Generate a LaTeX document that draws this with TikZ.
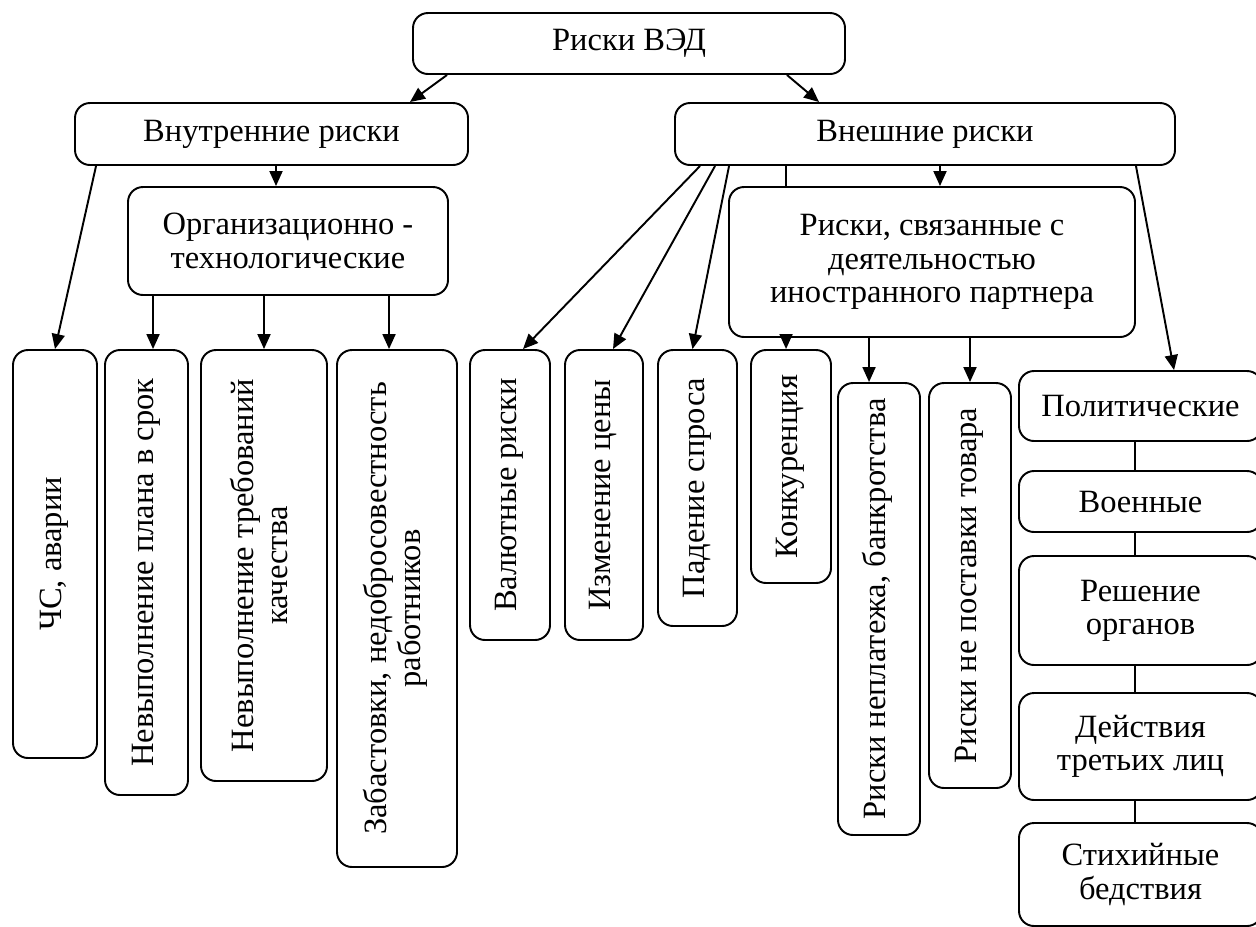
\documentclass[tikz,border=0pt]{standalone}
\usepackage{fontspec}
\setmainfont{Liberation Serif}
\usepackage{graphicx}
\usetikzlibrary{arrows.meta}

\newcommand{\vtext}[1]{\rotatebox{90}{\begin{tabular}{@{}c@{}}#1\end{tabular}}}

\begin{document}
\begin{tikzpicture}[->, >={Triangle[length=0.3cm, width=0.26cm]}, line width=1.1pt, font=\fontsize{18.5}{19}\selectfont]
  \tikzset{box/.style={draw=black, rounded corners=0.3cm, align=center, inner sep=0pt}}
  \useasboundingbox (0,0) rectangle (25.12,-18.52);

  % Levels
  \node[box, minimum width=8.64cm, minimum height=1.22cm] (ved) at (12.58,-0.87) {Риски ВЭД};
  \node[box, minimum width=7.86cm, minimum height=1.24cm] (inner) at (5.43,-2.68) {Внутренние риски};
  \node[box, minimum width=10cm, minimum height=1.24cm] (outer) at (18.5,-2.68) {Внешние риски};
  \node[box, minimum width=6.4cm, minimum height=2.16cm] (org) at (5.76,-4.82) {Организационно -\\технологические};
  \node[box, minimum width=8.12cm, minimum height=3cm] (partner) at (18.64,-5.24) {Риски, связанные с\\деятельностью\\иностранного партнера};

  % Internal risks
  \node[box, minimum width=1.68cm, minimum height=8.16cm] (chs) at (1.1,-11.08) {\vtext{ЧС, аварии}};
  \node[box, minimum width=1.66cm, minimum height=8.9cm] (plan) at (2.93,-11.45) {\vtext{Невыполнение плана в срок}};
  \node[box, minimum width=2.52cm, minimum height=8.62cm] (quality) at (5.28,-11.31) {\vtext{Невыполнение требований\\качества}};
  \node[box, minimum width=2.4cm, minimum height=10.34cm] (strike) at (7.94,-12.17) {\vtext{Забастовки, недобросовестность\\работников}};

  % External risks
  \node[box, minimum width=1.6cm, minimum height=5.8cm] (cur) at (10.2,-9.9) {\vtext{Валютные риски}};
  \node[box, minimum width=1.56cm, minimum height=5.8cm] (price) at (12.08,-9.9) {\vtext{Изменение цены}};
  \node[box, minimum width=1.58cm, minimum height=5.52cm] (demand) at (13.95,-9.76) {\vtext{Падение спроса}};
  \node[box, minimum width=1.6cm, minimum height=4.66cm] (compet) at (15.82,-9.33) {\vtext{Конкуренция}};
  \node[box, minimum width=1.64cm, minimum height=9.04cm] (nonpay) at (17.58,-12.18) {\vtext{Риски неплатежа, банкротства}};
  \node[box, minimum width=1.64cm, minimum height=8.1cm] (nodeliv) at (19.4,-11.71) {\vtext{Риски не поставки товара}};

  % Force majeure column
  \node[box, minimum width=4.86cm, minimum height=1.4cm] (polit) at (22.81,-8.12) {Политические};
  \node[box, minimum width=4.86cm, minimum height=1.22cm] (mil) at (22.81,-10.03) {Военные};
  \node[box, minimum width=4.86cm, minimum height=2.18cm] (decis) at (22.81,-12.21) {Решение\\органов};
  \node[box, minimum width=4.86cm, minimum height=2.14cm] (third) at (22.81,-14.93) {Действия\\третьих лиц};
  \node[box, minimum width=4.86cm, minimum height=2.06cm] (nature) at (22.81,-17.49) {Стихийные\\бедствия};

  % Links
  \draw ([xshift=0.7cm]ved.south west) -- ([xshift=-1.18cm]inner.north east);
  \draw ([xshift=-1.18cm]ved.south east) -- ([xshift=2.9cm]outer.north west);

  \draw ([xshift=0.09cm]inner.south) -- ([xshift=0.09cm]inner.south |- org.north);
  \draw ([xshift=0.44cm]inner.south west) -- (chs.north);
  \draw ([xshift=0.52cm]org.south west) -- ([xshift=0.52cm]org.south west |- plan.north);
  \draw (org.south -| quality.north) -- (quality.north);
  \draw ([xshift=5.24cm]org.south west) -- ([xshift=5.24cm]org.south west |- strike.north);

  \draw ([xshift=0.52cm]outer.south west) -- ([xshift=0.26cm]cur.north);
  \draw ([xshift=0.82cm]outer.south west) -- ([xshift=0.18cm]price.north);
  \draw ([xshift=1.1cm]outer.south west) -- ([xshift=-0.1cm]demand.north);
  \draw[-] ([xshift=2.24cm]outer.south west) -- ([xshift=2.24cm]outer.south west |- partner.north);
  \draw ([xshift=2.24cm]outer.south west |- partner.south) -- ([xshift=2.24cm]outer.south west |- compet.north);
  \draw ([xshift=0.3cm]outer.south) -- ([xshift=0.3cm]outer.south |- partner.north);
  \draw ([xshift=2.82cm]partner.south west) -- ([xshift=2.82cm]partner.south west |- nonpay.north);
  \draw (partner.south -| nodeliv.north) -- (nodeliv.north);
  \draw ([xshift=-0.8cm]outer.south east) -- ([xshift=3.12cm]polit.north west);

  \foreach \a/\b in {polit/mil, mil/decis, decis/third, third/nature}
    \draw[-] ([xshift=-0.11cm]\a.south) -- ([xshift=-0.11cm]\b.north);

\end{tikzpicture}
\end{document}
